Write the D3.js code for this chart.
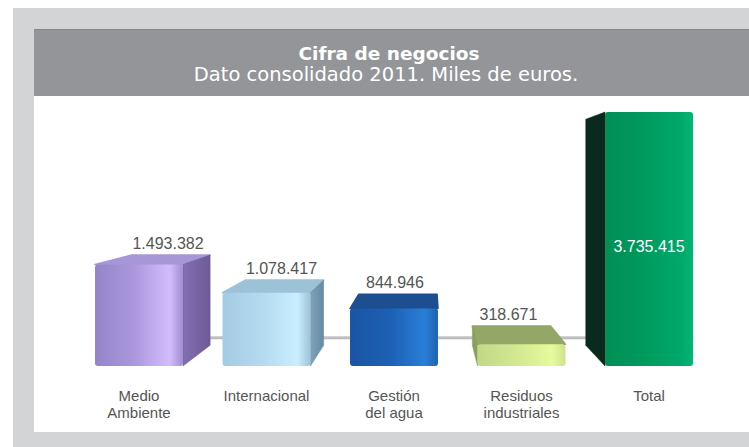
<!DOCTYPE html>
<html><head><meta charset="utf-8">
<script src="https://cdn.jsdelivr.net/npm/d3@7"></script>
<style>html,body{margin:0;padding:0;background:#fff;}svg{display:block;}</style>
</head><body>
<script>
// ---- data ----
const categories = ["Medio Ambiente", "Internacional", "Gestión del agua", "Residuos industriales", "Total"];
const categoryLines = [["Medio", "Ambiente"], ["Internacional"], ["Gestión", "del agua"], ["Residuos", "industriales"], ["Total"]];
const values = [1493382, 1078417, 844946, 318671, 3735415];
const title = "Cifra de negocios";
const subtitle = "Dato consolidado 2011. Miles de euros.";

// ---- style ----
const W = 749, H = 447;
const palettes = [
  {front: ["#9684c8", "#ab98dc", "#d2bcfc", "#a18dd2"], side: ["#8270b2", "#6c5b96"], top: "#a897d8"},
  {front: ["#a3cbe2", "#b4daf0", "#c9eefe", "#9fc2d8"], side: ["#7fa3bb", "#668aa2"], top: "#9cc2d8"},
  {front: ["#1a55a3", "#1d60b4", "#2a7ed8", "#1f62b0"], side: ["#163f78", "#12335f"], top: "#1c4e90"},
  {front: ["#c2d887", "#d2e892", "#e6fb9d", "#cde28f"], side: ["#a0b56c", "#8aa05c"], top: "#93a766"},
  {front: ["#008f56", "#009a5e", "#00a86a", "#00b775"], side: ["#0d3324", "#0a2a1d"], top: "#00a064"}
];

const locale = d3.formatLocale({decimal: ",", thousands: ".", grouping: [3], currency: ["", "€"]});
const fmt = locale.format(",d");

const svg = d3.select("body").append("svg").attr("width", W).attr("height", H);
const defs = svg.append("defs");

// frame
svg.append("rect").attr("width", W).attr("height", H).attr("fill", "#fff");
svg.append("rect").attr("x", 13).attr("y", 8).attr("width", W - 13).attr("height", H - 8).attr("fill", "#d3d4d6");
svg.append("rect").attr("x", 34).attr("y", 96).attr("width", W - 34).attr("height", 336).attr("fill", "#fff");
svg.append("rect").attr("x", 34).attr("y", 29).attr("width", W - 34).attr("height", 67).attr("fill", "#939598");
svg.append("rect").attr("x", 34).attr("y", 29).attr("width", W - 34).attr("height", 1).attr("fill", "#86878a");

svg.append("text").attr("x", 389).attr("y", 60).attr("text-anchor", "middle")
  .attr("font-family", "DejaVu Sans").attr("font-weight", "bold").attr("font-size", 18.5)
  .attr("fill", "#fff").text(title);
svg.append("text").attr("x", 386).attr("y", 81).attr("text-anchor", "middle")
  .attr("font-family", "DejaVu Sans").attr("font-size", 19.5)
  .attr("fill", "#fff").text(subtitle);

// scales
const x = d3.scaleBand().domain(categories).range([95, 693]).paddingInner(0.31).paddingOuter(0);
const y = d3.scaleLinear().domain([0, d3.max(values)]).range([366, 112]);

// perspective
const vx = 430, vy = 178, k = 0.11;
const back = (px, py) => [px + k * (vx - px), py + k * (vy - py)];
const poly = pts => "M" + pts.map(p => p.join(",")).join("L") + "Z";

// floor line (behind bars)
const kf = 0.15;
const floorY = y(0) + kf * (vy - y(0));
svg.append("line").attr("x1", 200).attr("x2", 692).attr("y1", floorY).attr("y2", floorY)
  .attr("stroke", "#b9b9b9").attr("stroke-width", 3).attr("stroke-linecap", "round");
svg.append("line").attr("x1", 200).attr("x2", 692).attr("y1", floorY - 1).attr("y2", floorY - 1)
  .attr("stroke", "#d6d6d6").attr("stroke-width", 1);

const data = categories.map((c, i) => ({c, v: values[i], lines: categoryLines[i], p: palettes[i], i}));

data.forEach(d => {
  const g = svg.append("g");
  const x0 = x(d.c), x1 = x(d.c) + x.bandwidth();
  const y0 = y(d.v), y1 = y(0);
  const gf = defs.append("linearGradient").attr("id", "gf" + d.i).attr("x1", 0).attr("x2", 1).attr("y1", 0).attr("y2", 0);
  [[0, d.p.front[0]], [0.45, d.p.front[1]], [0.85, d.p.front[2]], [1, d.p.front[3]]].forEach(s =>
    gf.append("stop").attr("offset", s[0]).attr("stop-color", s[1]));
  const gs = defs.append("linearGradient").attr("id", "gs" + d.i).attr("x1", 0).attr("x2", 1).attr("y1", 0).attr("y2", 0);
  gs.append("stop").attr("offset", 0).attr("stop-color", d.p.side[0]);
  gs.append("stop").attr("offset", 1).attr("stop-color", d.p.side[1]);

  // top face
  if (vy < y0) {
    g.append("path").attr("d", poly([[x0, y0], [x1, y0], back(x1, y0), back(x0, y0)]))
      .attr("fill", d.p.top).attr("stroke", d.p.top).attr("stroke-width", 1.5).attr("stroke-linejoin", "round");
  }
  // right face
  if (vx > x1) {
    g.append("path").attr("d", poly([[x1, y0], back(x1, y0), back(x1, y1), [x1, y1]]))
      .attr("fill", `url(#gs${d.i})`).attr("stroke", d.p.side[1]).attr("stroke-width", 0.5).attr("stroke-linejoin", "round");
  }
  // left face
  if (vx < x0) {
    g.append("path").attr("d", poly([[x0, y0], back(x0, y0), back(x0, y1), [x0, y1]]))
      .attr("fill", d.p.side[1]).attr("stroke", d.p.side[1]).attr("stroke-width", 0.5).attr("stroke-linejoin", "round");
  }
  // front face
  g.append("rect").attr("x", x0).attr("y", y0).attr("width", x1 - x0).attr("height", y1 - y0)
    .attr("rx", 3).attr("fill", `url(#gf${d.i})`);

  // value label
  const cx = (x0 + x1) / 2;
  if (d.i === data.length - 1) {
    g.append("text").attr("x", cx).attr("y", (y0 + y1) / 2 + 13).attr("text-anchor", "middle")
      .attr("font-family", "Liberation Sans").attr("font-size", 16).attr("fill", "#fff").text(fmt(d.v));
  } else {
    const b = back(cx, y0);
    g.append("text").attr("x", b[0] - 3).attr("y", b[1] - 6).attr("text-anchor", "middle")
      .attr("font-family", "Liberation Sans").attr("font-size", 16).attr("fill", "#555").text(fmt(d.v));
  }
  // category label
  const t = g.append("text").attr("text-anchor", "middle")
    .attr("font-family", "Liberation Sans").attr("font-size", 15).attr("fill", "#555");
  d.lines.forEach((ln, j) => t.append("tspan").attr("x", cx).attr("y", 401 + j * 17).text(ln));
});
</script>
</body></html>
